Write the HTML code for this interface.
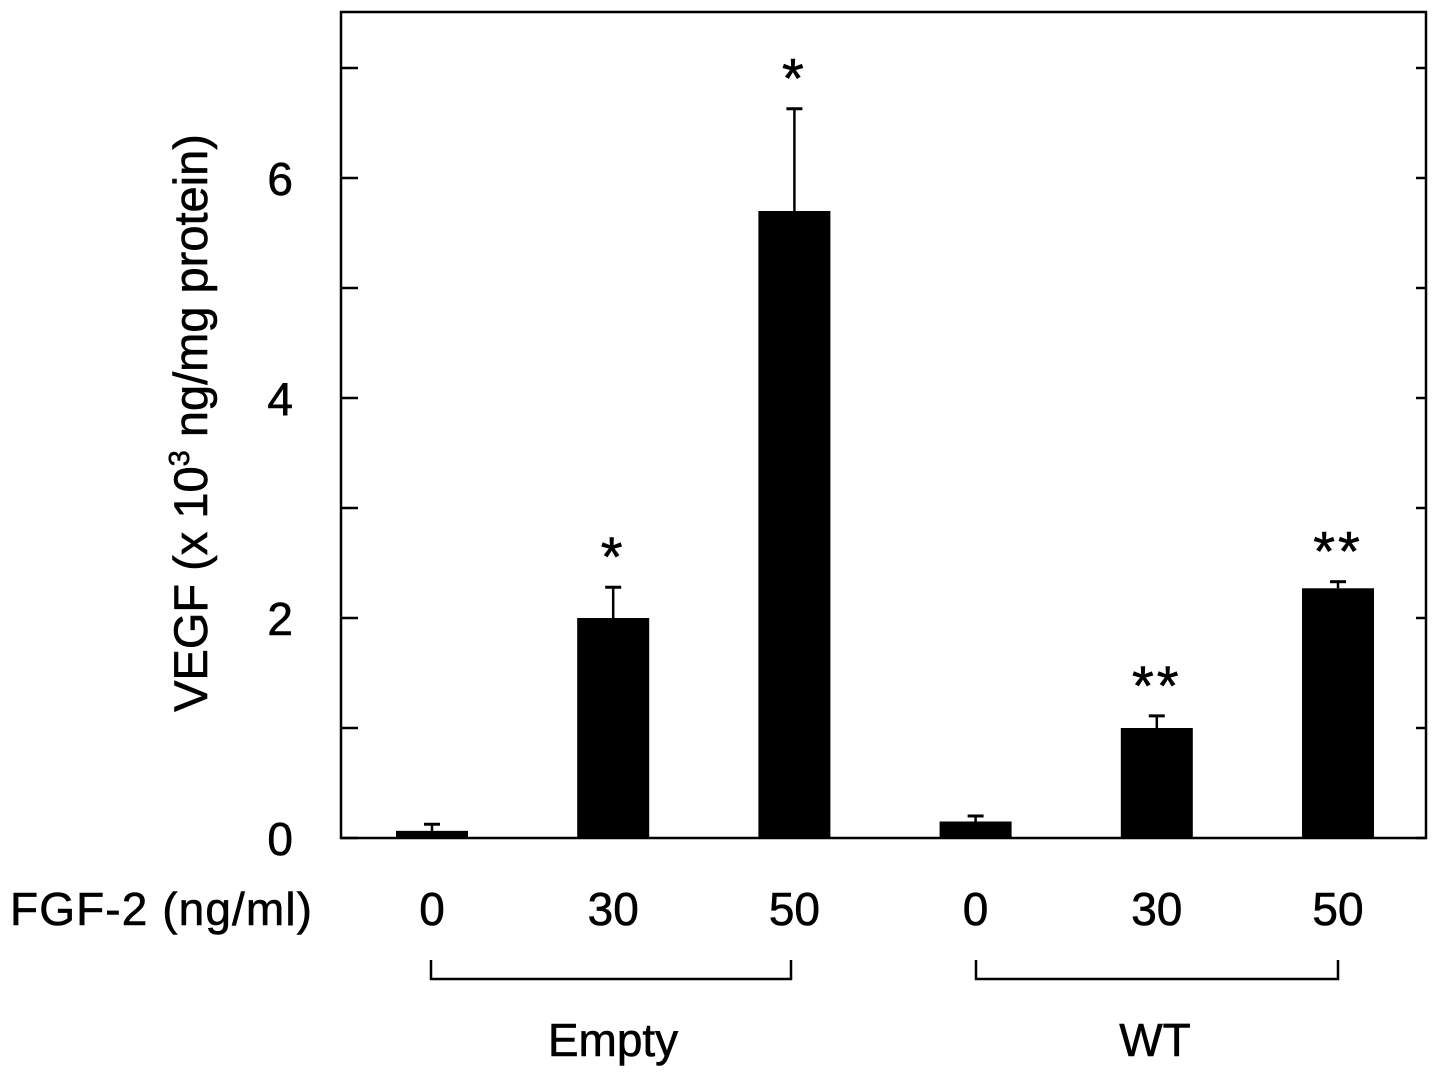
<!DOCTYPE html>
<html><head><meta charset="utf-8"><style>
body{margin:0;background:#fff}
svg text{font-family:"Liberation Sans",Arial,sans-serif;fill:#000;stroke:#000;stroke-width:0.6}
</style></head><body>
<svg width="1441" height="1078">
<g id="chart"></g>
</svg>
<script>
const doses=["0","30","50","0","30","50"];
const values=[0.065,2.0,5.7,0.15,1.0,2.27];
const errors=[0.06,0.28,0.93,0.05,0.11,0.06];
const marks=["","*","*","","**","**"];
const yTicks=[0,1,2,3,4,5,6,7];
const yLabels=[0,2,4,6];
const ns="http://www.w3.org/2000/svg";
const g=document.getElementById('chart');
const L=341,R=1426,T=12,B=838;
const y=v=>B-v*110;
const xc=i=>432+i*181.2;
function mk(t,a,p){const e=document.createElementNS(ns,t);for(const k in a)e.setAttribute(k,a[k]);(p||g).appendChild(e);return e;}
const frame=mk('rect',{x:L,y:T,width:R-L,height:B-T,fill:'none',stroke:'#000','stroke-width':2.5});


yTicks.forEach(v=>{
 const t1=mk('line',{x1:L,x2:L+17,y1:y(v),y2:y(v),stroke:'#000','stroke-width':2.5});
 
 
 const t2=mk('line',{x1:R-10,x2:R,y1:y(v),y2:y(v),stroke:'#000','stroke-width':2.5});
 
 
});
yLabels.forEach(v=>{
 const t=mk('text',{x:293,y:y(v)+17,'text-anchor':'end','font-size':46});t.textContent=v;
 
 
});
values.forEach((v,i)=>{
 const cx=xc(i);
 const b=mk('rect',{x:cx-36,y:y(v),width:72,height:B-y(v),fill:'#000'});
 
 
 const top=y(v+errors[i]);
 const e=mk('line',{x1:cx,x2:cx,y1:y(v),y2:top,stroke:'#000','stroke-width':2.5});
 
 
 const c=mk('line',{x1:cx-8,x2:cx+8,y1:top,y2:top,stroke:'#000','stroke-width':3});
 
 
 if(marks[i]){const s=mk('text',{x:cx,y:top-11,'text-anchor':'middle','font-size':56,'letter-spacing':'3'});s.textContent=marks[i];
 
 }
 const d=mk('text',{x:cx,y:925,'text-anchor':'middle','font-size':46});d.textContent=doses[i];
 
 
});
</script>
<svg width="1441" height="1078" style="position:absolute;left:0;top:0">
<text x="10" y="925" font-size="46" textLength="302">FGF-2 (ng/ml)</text>
<text transform="translate(207,423) rotate(-90)" text-anchor="middle" font-size="47">VEGF (x 10<tspan font-size="29" dy="-18">3</tspan><tspan dy="18"> ng/mg protein)</tspan></text>
<path d="M431 960 V979 H791 V960" fill="none" stroke="#000" stroke-width="2.5"/>
<path d="M976 960 V979 H1338 V960" fill="none" stroke="#000" stroke-width="2.5"/>
<text x="613" y="1056" text-anchor="middle" font-size="46">Empty</text>
<text x="1155" y="1056" text-anchor="middle" font-size="46">WT</text>
</svg>
</body></html>
